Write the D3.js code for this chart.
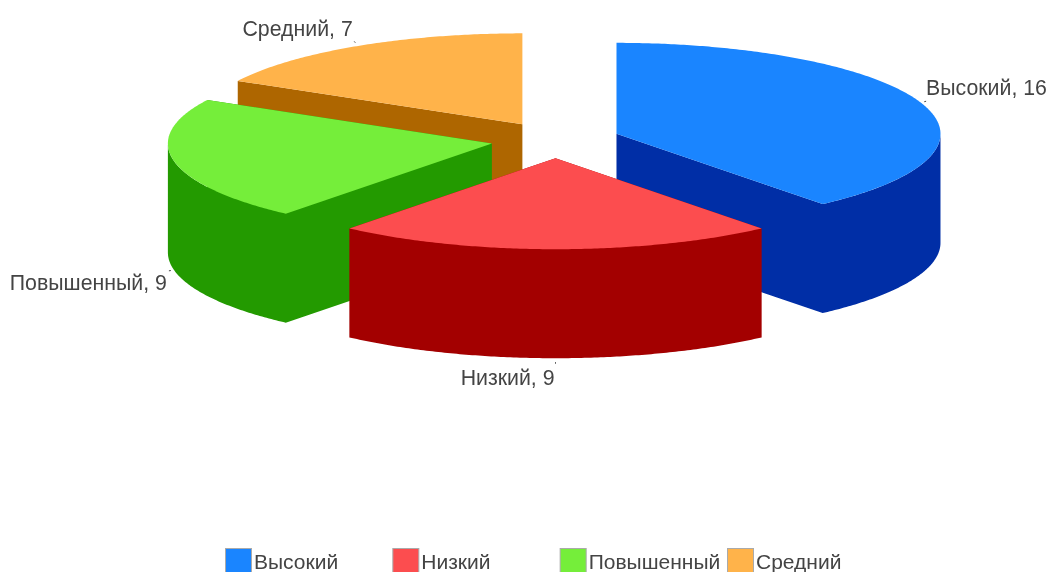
<!DOCTYPE html>
<html>

<head>
    <meta charset="utf-8">
    <title>Круговая диаграмма</title>
    <script src="https://d3js.org/d3.v7.min.js"></script>
    <style>
        html,
        body {
            margin: 0;
            padding: 0;
            width: 100%;
            height: 100%;
            overflow: hidden;
            background: #fff;
            font-family: "Liberation Sans", Arial, sans-serif;
        }

        #chart {
            display: block;
            filter: blur(0.5px);
        }

        .label {
            font-size: 21.3px;
            fill: #444;
        }

        .legend-label {
            font-size: 21px;
            fill: #444;
        }

        .leader {
            stroke: #444;
            stroke-width: 1px;
        }
    </style>
</head>

<body>
    <svg id="chart"></svg>

    <script>
        // Данные
        const categories = ["Высокий", "Низкий", "Повышенный", "Средний"];
        const values = [16, 9, 9, 7];
        const topColors = ["#1a85ff", "#fc4d4f", "#75ee3a", "#ffb34a"];
        const sideColors = ["#002ea6", "#a30000", "#239a00", "#ae6600"];

        // Порядок отрисовки: задние сектора первыми
        const drawOrder = [3, 2, 0, 1];

        const width = 1051;
        const height = 572;

        // Геометрия пирога
        const cx = 555.5;
        const cy = 140;
        const rx = 324;
        const ry = 91;
        const depth = 109;
        const explode = 0.2;

        const svg = d3.select("#chart")
            .attr("width", width)
            .attr("height", height);

        const slices = d3.pie().sort(null).value(d => d)(values);

        const xScale = d3.scaleLinear().domain([-1, 1]).range([cx - rx, cx + rx]);
        const yScale = d3.scaleLinear().domain([-1, 1]).range([cy - ry, cy + ry]);

        const line = d3.line();

        // Точка на эллипсе, a - угол от 12 часов
        function project(a, r, slice, dz) {
            const mid = (slice.startAngle + slice.endAngle) / 2;
            const u = Math.sin(a) * r + Math.sin(mid) * explode;
            const v = -Math.cos(a) * r - Math.cos(mid) * explode;
            return [xScale(u), yScale(v) + dz];
        }

        function arcPoints(a0, a1, slice, dz) {
            const n = Math.max(2, Math.ceil((a1 - a0) / 0.01));
            return d3.range(n + 1).map(i => project(a0 + (a1 - a0) * i / n, 1, slice, dz));
        }

        // Один обход у всех контуров, иначе nonzero вырезает пересечения
        function closedPath(points) {
            const pts = d3.polygonArea(points) < 0 ? points.slice().reverse() : points;
            return line(pts) + "Z";
        }

        const pieGroup = svg.append("g");

        drawOrder.forEach(i => {
            const s = slices[i];
            const g = pieGroup.append("g");
            const apex = project(0, 0, s, 0);
            const apexLow = project(0, 0, s, depth);

            // Боковые срезы и внешняя стенка одним контуром, чтобы не было швов
            let side = "";
            [s.startAngle, s.endAngle].forEach(a => {
                side += closedPath([apex, project(a, 1, s, 0), project(a, 1, s, depth), apexLow]);
            });

            // Стенка видна только в передней половине
            const a0 = Math.max(s.startAngle, Math.PI / 2);
            const a1 = Math.min(s.endAngle, Math.PI * 3 / 2);
            if (a1 > a0) {
                const upper = arcPoints(a0, a1, s, 0);
                const lower = arcPoints(a0, a1, s, depth).reverse();
                side += closedPath(upper.concat(lower));
            }

            g.append("path")
                .attr("d", side)
                .attr("fill", sideColors[i]);

            // Верхняя грань
            g.append("path")
                .attr("d", line([apex].concat(arcPoints(s.startAngle, s.endAngle, s, 0))) + "Z")
                .attr("fill", topColors[i]);
        });

        // Подписи с короткими выносками
        slices.forEach((s, i) => {
            const mid = (s.startAngle + s.endAngle) / 2;
            const sin = Math.sin(mid);
            const cos = Math.cos(mid);
            const front = cos < 0;
            const p = project(mid, 1, s, front ? depth : 0);
            const x = p[0] + sin * 3;
            const y = p[1] - cos * 4;

            svg.append("line")
                .attr("class", "leader")
                .attr("x1", x)
                .attr("y1", y)
                .attr("x2", x + sin * 2)
                .attr("y2", y - cos * 1.5);

            svg.append("text")
                .attr("class", "label")
                .attr("x", x + sin * 3 - 1)
                .attr("y", front ? y + 19 + Math.abs(cos) * 4 : y - 7)
                .attr("text-anchor", mid < Math.PI * 0.9 ? "start" : "end")
                .text(categories[i] + ", " + values[i]);
        });

        // Легенда
        const legendScale = d3.scalePoint()
            .domain(categories)
            .range([225, 727]);

        const legend = svg.append("g")
            .selectAll("g")
            .data(categories)
            .enter().append("g")
            .attr("transform", d => `translate(${legendScale(d)},548)`);

        legend.append("rect")
            .attr("x", 0.5)
            .attr("y", 0.5)
            .attr("width", 26)
            .attr("height", 30)
            .attr("fill", (d, i) => topColors[i])
            .attr("stroke", "#aaa");

        legend.append("text")
            .attr("class", "legend-label")
            .attr("x", 29)
            .attr("y", 21)
            .text(d => d);
    </script>
</body>

</html>
